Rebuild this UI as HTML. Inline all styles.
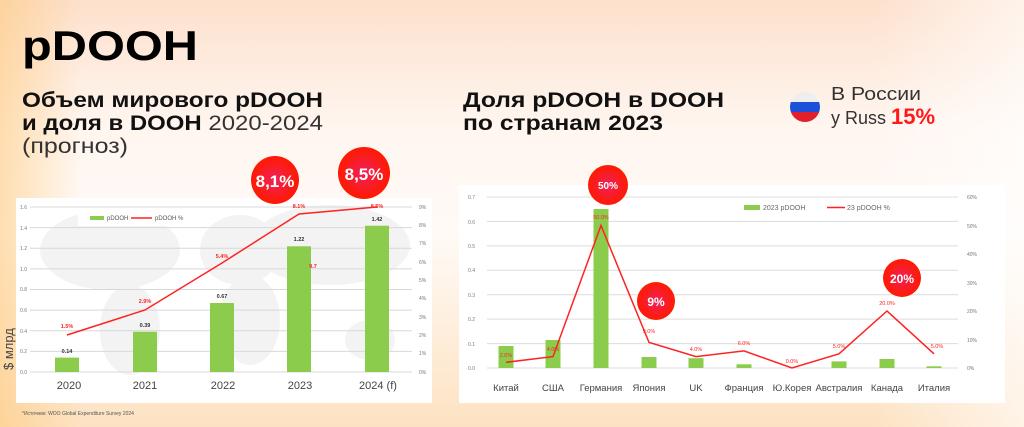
<!DOCTYPE html>
<html><head><meta charset="utf-8"><style>
html,body{margin:0;padding:0;width:1024px;height:427px;overflow:hidden}
body{background:linear-gradient(180deg,#fde0cc 0%,#fff6f0 30%,#fffaf6 55%,#fde2c2 100%);font-family:"Liberation Sans","DejaVu Sans",sans-serif}
.bg2{position:absolute;left:0;top:0;width:1024px;height:427px;background:linear-gradient(90deg,rgba(253,200,120,0.55) 0%,rgba(255,240,225,0) 8%,rgba(255,255,255,0) 85%,rgba(255,255,255,0.6) 100%)}
svg{position:absolute;left:0;top:0}
</style></head><body><div class="bg2"></div>
<svg width="1024" height="427" viewBox="0 0 1024 427" font-family="Liberation Sans, DejaVu Sans, sans-serif">
<defs><radialGradient id="rg" cx="50%" cy="50%" r="50%"><stop offset="0" stop-color="#f0205a"/><stop offset="1" stop-color="#ff1a00"/></radialGradient></defs>
<text x="22" y="60" font-size="42" font-weight="bold" fill="#000" textLength="176" lengthAdjust="spacingAndGlyphs">pDOOH</text>
<text x="22" y="107" font-size="21" font-weight="bold" fill="#111" textLength="301" lengthAdjust="spacingAndGlyphs">Объем мирового pDOOH</text>
<text x="22" y="130" font-size="21" fill="#111" textLength="301" lengthAdjust="spacingAndGlyphs"><tspan font-weight="bold">и доля в DOOH</tspan> <tspan fill="#333">2020-2024</tspan></text>
<text x="22" y="153" font-size="21" fill="#333" textLength="106" lengthAdjust="spacingAndGlyphs">(прогноз)</text>
<text x="463" y="107" font-size="21" font-weight="bold" fill="#111" textLength="261" lengthAdjust="spacingAndGlyphs">Доля pDOOH в DOOH</text>
<text x="463" y="130" font-size="21" font-weight="bold" fill="#111" textLength="200" lengthAdjust="spacingAndGlyphs">по странам 2023</text>
<clipPath id="fc"><circle cx="805" cy="107" r="15"/></clipPath>
<g clip-path="url(#fc)"><rect x="790" y="92" width="30" height="10" fill="#eee"/><rect x="790" y="102" width="30" height="10" fill="#1c50d8"/><rect x="790" y="112" width="30" height="10" fill="#e0202a"/></g>
<text x="831" y="100" font-size="18" fill="#333" textLength="90" lengthAdjust="spacingAndGlyphs">В России</text>
<text x="831" y="124" font-size="18" fill="#333">у Russ <tspan font-size="22" font-weight="bold" fill="#ff1a1a">15%</tspan></text>

<!-- left panel -->
<rect x="16" y="198" width="416" height="205" fill="#fff"/>
<g fill="#f3f3f3"><ellipse cx="110" cy="250" rx="70" ry="40"/><ellipse cx="130" cy="330" rx="30" ry="45"/><ellipse cx="240" cy="250" rx="40" ry="35"/><ellipse cx="250" cy="320" rx="30" ry="45"/><ellipse cx="330" cy="245" rx="80" ry="40"/><ellipse cx="370" cy="340" rx="25" ry="20"/></g>
<g stroke="#d8d8d8" stroke-width="1">
<line x1="30" y1="207" x2="412" y2="207"/><line x1="30" y1="227.6" x2="412" y2="227.6"/><line x1="30" y1="248.2" x2="412" y2="248.2"/><line x1="30" y1="268.9" x2="412" y2="268.9"/><line x1="30" y1="289.5" x2="412" y2="289.5"/><line x1="30" y1="310.1" x2="412" y2="310.1"/><line x1="30" y1="330.8" x2="412" y2="330.8"/><line x1="30" y1="351.4" x2="412" y2="351.4"/><line x1="30" y1="372" x2="412" y2="372"/></g>
<g font-size="5" fill="#777" text-anchor="end"><text x="27" y="209">1.6</text><text x="27" y="230">1.4</text><text x="27" y="250">1.2</text><text x="27" y="271">1.0</text><text x="27" y="291">0.8</text><text x="27" y="312">0.6</text><text x="27" y="333">0.4</text><text x="27" y="353">0.2</text><text x="27" y="374">0.0</text></g>
<g font-size="5" fill="#777"><text x="419" y="209">9%</text><text x="419" y="227">8%</text><text x="419" y="245">7%</text><text x="419" y="264">6%</text><text x="419" y="282">5%</text><text x="419" y="300">4%</text><text x="419" y="319">3%</text><text x="419" y="337">2%</text><text x="419" y="355">1%</text><text x="419" y="374">0%</text></g>
<rect x="78" y="210" width="112" height="16" fill="#fff" opacity="0.9"/>
<rect x="90" y="216" width="14" height="4" fill="#8ccc4c"/><text x="107" y="220" font-size="6" fill="#555">pDOOH</text>
<line x1="131" y1="218" x2="152" y2="218" stroke="#f22" stroke-width="1.5"/><text x="155" y="220" font-size="6" fill="#555">pDOOH %</text>
<g fill="#8ccc4c"><rect x="55" y="357.6" width="24" height="14.4"/><rect x="133" y="331.8" width="24" height="40.2"/><rect x="210" y="303" width="24" height="69"/><rect x="287" y="246.3" width="24" height="125.7"/><rect x="365" y="225.7" width="24" height="146.3"/></g>
<g font-size="5.5" fill="#333" text-anchor="middle" font-weight="bold"><text x="67" y="353">0.14</text><text x="145" y="327">0.39</text><text x="222" y="298">0.67</text><text x="299" y="241">1.22</text><text x="377" y="221">1.42</text></g>
<polyline points="67,335 145,310 222,263 299,214 377,207" fill="none" stroke="#f22" stroke-width="1.5"/>
<g font-size="5.5" fill="#f22" text-anchor="middle" font-weight="bold"><text x="67" y="328">1.5%</text><text x="145" y="303">2.9%</text><text x="222" y="258">5.4%</text><text x="299" y="208">8.1%</text><text x="377" y="208">8.5%</text><text x="313" y="268">9.7</text></g>
<g font-size="11" fill="#444" text-anchor="middle"><text x="69" y="389">2020</text><text x="145" y="389">2021</text><text x="223" y="389">2022</text><text x="300" y="389">2023</text><text x="378" y="389">2024 (f)</text></g>
<text transform="translate(13,370) rotate(-90)" font-size="13" fill="#444">$ млрд</text>
<text x="22" y="415" font-size="5" fill="#555">*Источник: WOO Global Expenditure Survey 2024</text>
<circle cx="275" cy="180" r="24" fill="url(#rg)"/><text x="275" y="187" font-size="17" font-weight="bold" fill="#fff" text-anchor="middle">8,1%</text>
<circle cx="364" cy="173" r="26" fill="url(#rg)"/><text x="364" y="180" font-size="17" font-weight="bold" fill="#fff" text-anchor="middle">8,5%</text>

<!-- right panel -->
<rect x="459" y="185" width="546" height="218" fill="#fff"/>
<g stroke="#dcdcdc" stroke-width="1">
<line x1="487" y1="197" x2="958" y2="197"/><line x1="487" y1="221.4" x2="958" y2="221.4"/><line x1="487" y1="245.9" x2="958" y2="245.9"/><line x1="487" y1="270.3" x2="958" y2="270.3"/><line x1="487" y1="294.7" x2="958" y2="294.7"/><line x1="487" y1="319.1" x2="958" y2="319.1"/><line x1="487" y1="343.6" x2="958" y2="343.6"/><line x1="487" y1="368" x2="958" y2="368"/></g>
<g font-size="5" fill="#777" text-anchor="end"><text x="475" y="199">0.7</text><text x="475" y="224">0.6</text><text x="475" y="248">0.5</text><text x="475" y="272">0.4</text><text x="475" y="297">0.3</text><text x="475" y="321">0.2</text><text x="475" y="346">0.1</text><text x="475" y="370">0.0</text></g>
<g font-size="5" fill="#777"><text x="967" y="199">60%</text><text x="967" y="228">50%</text><text x="967" y="256">40%</text><text x="967" y="285">30%</text><text x="967" y="313">20%</text><text x="967" y="342">10%</text><text x="967" y="370">0%</text></g>
<rect x="744" y="205" width="16" height="5" fill="#8ccc4c"/><text x="763" y="210" font-size="7" fill="#666">2023 pDOOH</text>
<line x1="827" y1="207.5" x2="845" y2="207.5" stroke="#f22" stroke-width="1.5"/><text x="847" y="210" font-size="7" fill="#666">23 pDOOH %</text>
<g fill="#8ccc4c"><rect x="498.5" y="346" width="15" height="22"/><rect x="545.5" y="340" width="15" height="28"/><rect x="593.5" y="209" width="15" height="159"/><rect x="641.5" y="357" width="15" height="11"/><rect x="688.5" y="358.2" width="15" height="9.8"/><rect x="736.5" y="364.3" width="15" height="3.7"/><rect x="831.5" y="361.4" width="15" height="6.6"/><rect x="879.5" y="359" width="15" height="9"/><rect x="926.5" y="366.3" width="15" height="1.7"/></g>
<polyline points="506,362.3 553,356.6 601,225.5 649,342.4 696,356.6 744,350.9 792,368 839,353.8 887,311 934,353.8" fill="none" stroke="#f22" stroke-width="1.5"/>
<g font-size="5.5" fill="#f22" text-anchor="middle"><text x="506" y="357">2.0%</text><text x="553" y="351">4.0%</text><text x="601" y="219">50.0%</text><text x="649" y="333">9.0%</text><text x="696" y="351">4.0%</text><text x="744" y="345">6.0%</text><text x="792" y="363">0.0%</text><text x="839" y="348">5.0%</text><text x="887" y="305">20.0%</text><text x="937" y="348">5.0%</text></g>
<g font-size="9.5" fill="#444" text-anchor="middle"><text x="506" y="391">Китай</text><text x="553" y="391">США</text><text x="601" y="391">Германия</text><text x="649" y="391">Япония</text><text x="696" y="391">UK</text><text x="744" y="391">Франция</text><text x="792" y="391">Ю.Корея</text><text x="839" y="391">Австралия</text><text x="887" y="391">Канада</text><text x="934" y="391">Италия</text></g>
<circle cx="608" cy="185" r="20" fill="url(#rg)"/><text x="608" y="189" font-size="10" font-weight="bold" fill="#fff" text-anchor="middle">50%</text>
<circle cx="656" cy="301" r="19" fill="url(#rg)"/><text x="656" y="306" font-size="12" font-weight="bold" fill="#fff" text-anchor="middle">9%</text>
<circle cx="902" cy="278" r="19" fill="url(#rg)"/><text x="902" y="283" font-size="12" font-weight="bold" fill="#fff" text-anchor="middle">20%</text>
</svg>
</body></html>
